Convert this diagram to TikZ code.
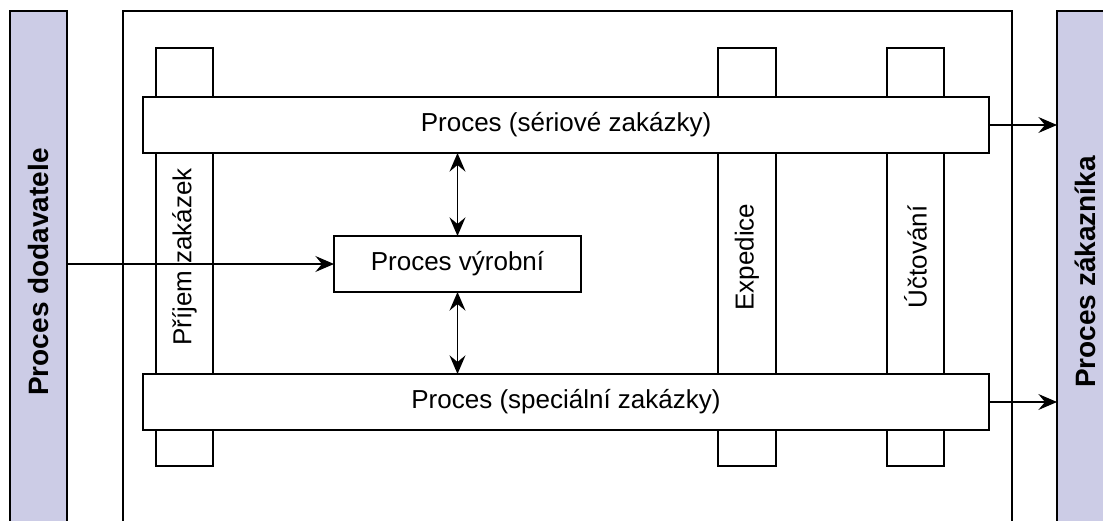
\documentclass[tikz,border=0pt]{standalone}
\usepackage{fontspec}
\setmainfont{Liberation Sans}
\usetikzlibrary{arrows.meta}
\definecolor{band}{RGB}{204,204,230}
\newcommand{\pxu}{0.75pt}
\begin{document}
\begin{tikzpicture}[x=0.75pt,y=-0.75pt,
  every node/.style={inner sep=0pt, outer sep=0pt},
  shape base/.style={draw=black, line width=1.1pt, rectangle},
  procbox/.style={shape base, fill=white, font=\fontsize{19.5}{23}\selectfont},
  colbox/.style={shape base, fill=white, rotate=90, font=\fontsize{19.5}{23}\selectfont},
  sidebox/.style={shape base, fill=band, rotate=90, font=\fontsize{21}{25}\selectfont\bfseries},
  flow/.style={line width=1.1pt, -{Stealth[length=14pt,width=12pt,inset=5pt]}},
  both/.style={line width=1.1pt, {Stealth[length=14pt,width=12pt,inset=5pt]}-{Stealth[length=14pt,width=12pt,inset=5pt]}}
]
\useasboundingbox (0,0) rectangle (1103,521);
\clip (0,0) rectangle (1103,521);

% enterprise frame
\node[shape base, minimum width=889*\pxu, minimum height=530*\pxu] (sys) at (567.5,276) {};

% functional columns
\node[colbox, minimum width=418*\pxu, minimum height=57*\pxu] (prijem) at (184.5,257) {Příjem zakázek};
\node[colbox, minimum width=418*\pxu, minimum height=58*\pxu] (exped) at (747,257) {Expedice};
\node[colbox, minimum width=418*\pxu, minimum height=57*\pxu] (uct) at (915.5,257) {Účtování};

% process bars
\node[procbox, minimum width=846*\pxu, minimum height=56*\pxu] (ser) at (566,125) {Proces (sériové zakázky)};
\node[procbox, minimum width=846*\pxu, minimum height=56*\pxu] (spec) at (566,402) {Proces (speciální zakázky)};

% production process
\node[procbox, minimum width=247*\pxu, minimum height=56*\pxu] (vyr) at (457.5,264) {Proces výrobní};

% supplier and customer (rotated: south is the right side, north the left side)
\node[sidebox, minimum width=522*\pxu, minimum height=57*\pxu] (dod) at (38.5,272) {Proces dodavatele};
\node[sidebox, minimum width=522*\pxu, minimum height=57*\pxu] (zak) at (1085.5,272) {Proces zákazníka};

% connectors
\draw[flow] (vyr.west -| dod.south) -- (vyr.west);
\draw[both] (vyr.north) -- (vyr.north |- ser.south);
\draw[both] (vyr.south) -- (vyr.south |- spec.north);
\draw[flow] (ser.east) -- (ser.east -| zak.north);
\draw[flow] (spec.east) -- (spec.east -| zak.north);
\end{tikzpicture}
\end{document}
